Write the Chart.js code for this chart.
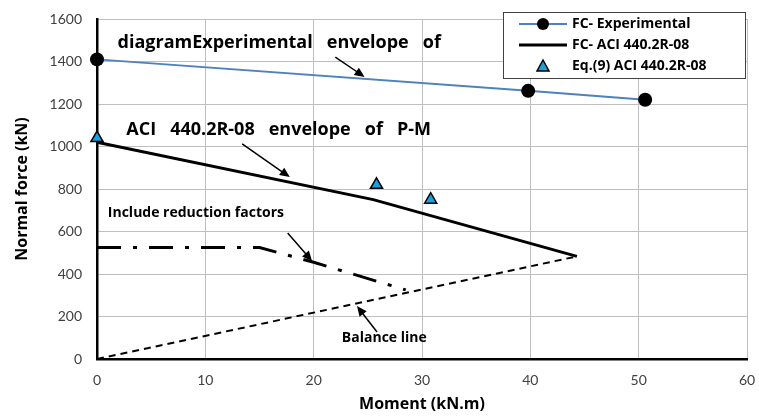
<!DOCTYPE html>
<html>
<head>
<meta charset="utf-8">
<script src="https://cdn.jsdelivr.net/npm/chart.js@4.4.0/dist/chart.umd.min.js"></script>
<style>
  html, body { margin: 0; padding: 0; background: #fff; }
  #wrap { width: 759px; height: 416px; }
</style>
</head>
<body>
<div id="wrap"><canvas id="pm"></canvas></div>
<script>
// values (moment kN.m, normal force kN)
const expMoment = [0, 39.8, 50.6];
const expForce = [1410, 1262, 1220];
const aciMoment = [0, 25.5, 44.3];
const aciForce = [1020, 750, 483];
const eq9Moment = [0, 25.8, 30.8];
const eq9Force = [1040, 820, 750];
const redMoment = [0, 15, 20, 28.5];
const redForce = [525, 525, 455, 325];
const balMoment = [0, 44.3];
const balForce = [0, 483];
const xTicks = [0, 10, 20, 30, 40, 50, 60];
const yTicks = [0, 200, 400, 600, 800, 1000, 1200, 1400, 1600];

const legendItems = ["FC- Experimental", "FC- ACI 440.2R-08", "Eq.(9) ACI 440.2R-08"];

// callouts in data units: text anchor, arrow tail and head
const notes = [
  { text: "diagramExperimental   envelope   of", x: 1.9, y: 1487, size: 18, from: [22.0, 1421], to: [24.7, 1327] },
  { text: "ACI   440.2R-08   envelope   of   P-M", x: 2.7, y: 1078, size: 18, from: [13.4, 1012], to: [17.8, 856] },
  { text: "Include reduction factors", x: 1.0, y: 687, size: 14, from: [17.6, 593], to: [19.85, 461] },
  { text: "Balance line", x: 22.6, y: 99, size: 14, from: [25.85, 127], to: [24.0, 249] }
];

const BLUE = "#4f81bd";
const TRI = "#1aa0dc";

function pts(xs, ys) { return xs.map((x, i) => ({ x, y: ys[i] })); }

function arrow(ctx, x1, y1, x2, y2) {
  const a = Math.atan2(y2 - y1, x2 - x1);
  const L = 10, W = 4.5;
  ctx.beginPath();
  ctx.moveTo(x1, y1);
  ctx.lineTo(x2 - Math.cos(a) * L * 0.8, y2 - Math.sin(a) * L * 0.8);
  ctx.lineWidth = 1.5;
  ctx.strokeStyle = "#000";
  ctx.stroke();
  ctx.beginPath();
  ctx.moveTo(x2, y2);
  ctx.lineTo(x2 - Math.cos(a) * L + Math.sin(a) * W, y2 - Math.sin(a) * L - Math.cos(a) * W);
  ctx.lineTo(x2 - Math.cos(a) * L - Math.sin(a) * W, y2 - Math.sin(a) * L + Math.cos(a) * W);
  ctx.closePath();
  ctx.fillStyle = "#000";
  ctx.fill();
}

const notesPlugin = {
  id: "notes",
  afterDatasetsDraw(chart) {
    const ctx = chart.ctx, xs = chart.scales.x, ys = chart.scales.y;
    ctx.save();
    notes.forEach(n => {
      ctx.font = "bold " + n.size + "px 'Open Sans'";
      ctx.fillStyle = "#000";
      ctx.textAlign = "left";
      ctx.textBaseline = "middle";
      ctx.fillText(n.text, xs.getPixelForValue(n.x), ys.getPixelForValue(n.y));
      arrow(ctx, xs.getPixelForValue(n.from[0]), ys.getPixelForValue(n.from[1]),
        xs.getPixelForValue(n.to[0]), ys.getPixelForValue(n.to[1]));
    });
    ctx.restore();
  },
  afterDraw(chart) {
    const ctx = chart.ctx, area = chart.chartArea;
    const w = 242, h = 66;
    const left = area.right - w - 2, top = area.top - 7;
    ctx.save();
    ctx.fillStyle = "#fff";
    ctx.fillRect(left, top, w, h);
    ctx.strokeStyle = "#404040";
    ctx.lineWidth = 1;
    ctx.strokeRect(left + 0.5, top + 0.5, w, h);
    ctx.font = "bold 14px 'Open Sans'";
    ctx.textBaseline = "middle";
    ctx.textAlign = "left";
    legendItems.forEach((label, i) => {
      const cy = top + 12 + i * 21;
      const x0 = left + 16, x1 = left + 64, cx = (x0 + x1) / 2;
      if (i === 0) {
        ctx.beginPath(); ctx.moveTo(x0, cy); ctx.lineTo(x1, cy);
        ctx.strokeStyle = BLUE; ctx.lineWidth = 2; ctx.stroke();
        ctx.beginPath(); ctx.arc(cx, cy, 6, 0, Math.PI * 2);
        ctx.fillStyle = "#000"; ctx.fill();
      } else if (i === 1) {
        ctx.beginPath(); ctx.moveTo(x0, cy); ctx.lineTo(x1, cy);
        ctx.strokeStyle = "#000"; ctx.lineWidth = 3; ctx.stroke();
      } else {
        ctx.beginPath();
        ctx.moveTo(cx, cy - 6); ctx.lineTo(cx + 6, cy + 5); ctx.lineTo(cx - 6, cy + 5); ctx.closePath();
        ctx.fillStyle = TRI; ctx.fill();
        ctx.strokeStyle = "#000"; ctx.lineWidth = 1.5; ctx.stroke();
      }
      ctx.fillStyle = "#000";
      ctx.fillText(label, left + 69, cy);
    });
    ctx.restore();
  }
};

new Chart(document.getElementById("pm").getContext("2d"), {
  type: "scatter",
  data: {
    datasets: [
      {
        label: legendItems[2],
        data: pts(eq9Moment, eq9Force),
        showLine: false,
        pointStyle: "triangle",
        pointRadius: 7,
        backgroundColor: TRI,
        borderColor: "#000",
        borderWidth: 1.5
      },
      {
        label: legendItems[0],
        data: pts(expMoment, expForce),
        showLine: true,
        borderColor: BLUE,
        borderWidth: 2,
        pointRadius: 7,
        pointBackgroundColor: "#000",
        pointBorderColor: "#000",
        pointBorderWidth: 0
      },
      {
        label: legendItems[1],
        data: pts(aciMoment, aciForce),
        showLine: true,
        borderColor: "#000",
        borderWidth: 3,
        pointRadius: 0
      },
      {
        label: "reduction",
        data: pts(redMoment, redForce),
        showLine: true,
        borderColor: "#000",
        borderWidth: 3,
        borderDash: [24, 12, 4, 12],
        pointRadius: 0
      },
      {
        label: "balance",
        data: pts(balMoment, balForce),
        showLine: true,
        borderColor: "#000",
        borderWidth: 2,
        borderDash: [7, 5],
        pointRadius: 0
      }
    ]
  },
  options: {
    responsive: true,
    maintainAspectRatio: false,
    animation: false,
    clip: false,
    layout: { padding: { left: 0, right: 12, top: 19, bottom: 0 } },
    plugins: {
      legend: { display: false },
      tooltip: { enabled: false }
    },
    scales: {
      x: {
        type: "linear",
        min: 0, max: 60,
        afterBuildTicks: s => { s.ticks = xTicks.map(v => ({ value: v })); },
        afterFit: s => { s.height = 57; s.paddingLeft = 0; s.paddingRight = 0; },
        ticks: { color: "#404040", padding: 13, font: { size: 14, family: "Lato" }, callback: v => String(v) },
        grid: { color: "#bfbfbf", lineWidth: 1, drawTicks: false },
        border: { color: "#000", width: 2.5 },
        title: { display: true, text: "Moment (kN.m)", color: "#000", padding: { top: 0, bottom: 2 }, font: { size: 16, weight: "bold", family: "'Open Sans'" } }
      },
      y: {
        type: "linear",
        min: 0, max: 1600,
        afterBuildTicks: s => { s.ticks = yTicks.map(v => ({ value: v })); },
        afterFit: s => { s.width = 97; s.paddingTop = 0; s.paddingBottom = 0; },
        ticks: { color: "#404040", padding: 15, font: { size: 14, family: "Lato" }, callback: v => String(v) },
        grid: { color: "#bfbfbf", lineWidth: 1, drawTicks: false },
        border: { color: "#000", width: 2.5 },
        title: { display: true, text: "Normal force (kN)", color: "#000", padding: { top: 13, bottom: 0 }, font: { size: 16, weight: "bold", family: "'Open Sans'" } }
      }
    }
  },
  plugins: [notesPlugin]
});
</script>
</body>
</html>
